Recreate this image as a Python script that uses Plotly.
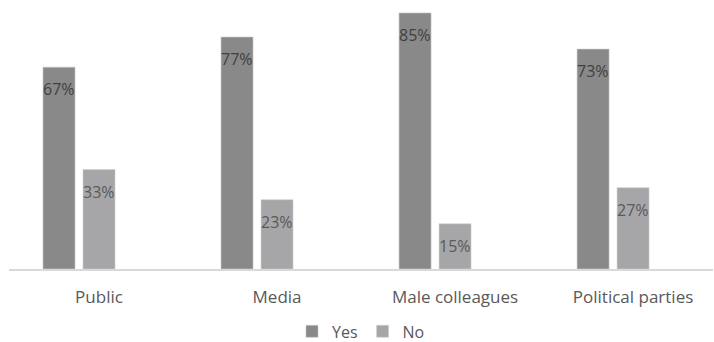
import plotly.graph_objects as go

categories = ["Public", "Media", "Male colleagues", "Political parties"]
yes_values = [67, 77, 85, 73]
no_values = [33, 23, 15, 27]
series_names = ["Yes", "No"]

YES_COLOR = "#898989"
NO_COLOR = "#a6a6a8"
FONT = "Open Sans"

fig = go.Figure()
fig.add_trace(go.Bar(x=categories, y=yes_values, name=series_names[0],
                     marker=dict(color=YES_COLOR, line=dict(color="#c8c8c8", width=0.6))))
fig.add_trace(go.Bar(x=categories, y=no_values, name=series_names[1],
                     marker=dict(color=NO_COLOR, line=dict(color="#d0d0d0", width=0.6))))
# empty third series slot (as in the original chart layout)
fig.add_trace(go.Bar(x=categories, y=[None] * len(categories), name="",
                     showlegend=False, hoverinfo="skip"))

annotations = []
for cat, v in zip(categories, yes_values):
    annotations.append(dict(x=cat, y=v, text=f"{v}%", showarrow=False, xshift=-40,
                            yshift=-22, yanchor="middle",
                            font=dict(family=FONT, size=16, color="#404040")))
for cat, v in zip(categories, no_values):
    annotations.append(dict(x=cat, y=v, text=f"{v}%", showarrow=False, xshift=0,
                            yshift=-22, yanchor="middle",
                            font=dict(family=FONT, size=16, color="#595959")))

fig.update_layout(
    width=714, height=342,
    margin=dict(l=9, r=1, t=0, b=73, autoexpand=False),
    paper_bgcolor="white", plot_bgcolor="white",
    barmode="group", bargap=0.326, bargroupgap=0.2,
    font=dict(family=FONT, size=17, color="#595959"),
    showlegend=True,
    legend=dict(orientation="h", x=0.50, xanchor="center", y=-0.232, yanchor="middle",
                font=dict(family=FONT, size=16, color="#595959"),
                itemwidth=30, tracegroupgap=0),
    annotations=annotations,
    xaxis=dict(type="category", range=[-0.5056, 3.449], showline=True,
               linecolor="#d9d9d9", linewidth=1.5, ticks="outside", ticklen=12,
               tickcolor="rgba(0,0,0,0)", showgrid=False, zeroline=False,
               tickfont=dict(family=FONT, size=17, color="#595959")),
    yaxis=dict(range=[0, 89.3], visible=False, showgrid=False, zeroline=False),
)

fig.write_html("out.html", config={"displayModeBar": False},
               post_script="document.body.style.margin='0';document.body.style.overflow='hidden';")
